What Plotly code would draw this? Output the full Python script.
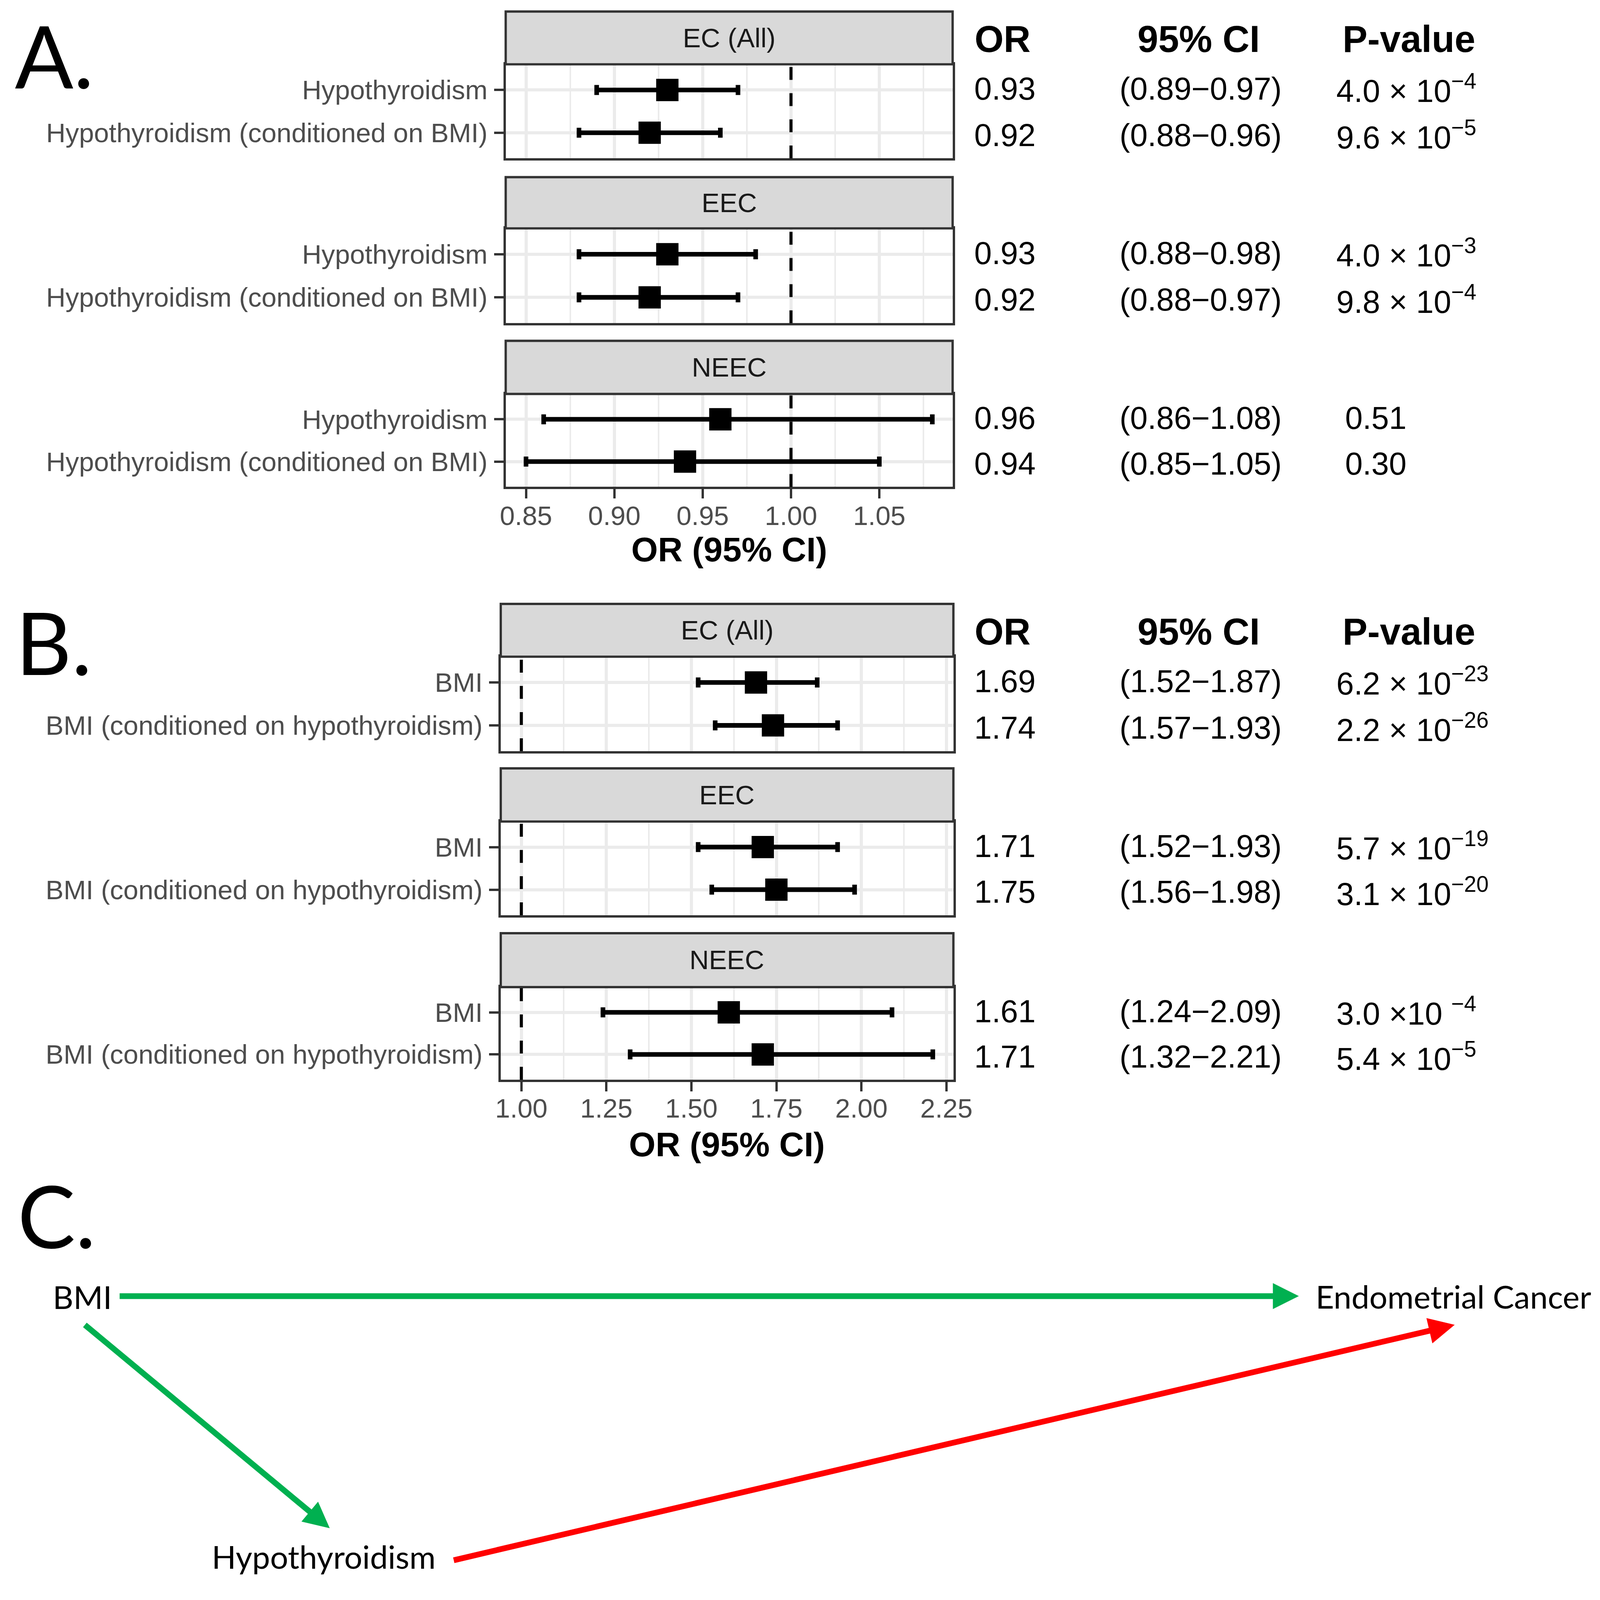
import plotly.graph_objects as go

# ---------------------------------------------------------------
# data
# ---------------------------------------------------------------
groups = ["EC (All)", "EEC", "NEEC"]

# A. hypothyroidism -> endometrial cancer
a_labels = ["Hypothyroidism", "Hypothyroidism (conditioned on BMI)"]
a_or = [[0.93, 0.92], [0.93, 0.92], [0.96, 0.94]]
a_lo = [[0.89, 0.88], [0.88, 0.88], [0.86, 0.85]]
a_hi = [[0.97, 0.96], [0.98, 0.97], [1.08, 1.05]]
a_p = [["4.0 × 10<sup>−4</sup>", "9.6 × 10<sup>−5</sup>"],
       ["4.0 × 10<sup>−3</sup>", "9.8 × 10<sup>−4</sup>"],
       ["\u00a00.51", "\u00a00.30"]]
a_ticks = [0.85, 0.90, 0.95, 1.00, 1.05]

# B. BMI -> endometrial cancer
b_labels = ["BMI", "BMI (conditioned on hypothyroidism)"]
b_or = [[1.69, 1.74], [1.71, 1.75], [1.61, 1.71]]
b_lo = [[1.52, 1.57], [1.52, 1.56], [1.24, 1.32]]
b_hi = [[1.87, 1.93], [1.93, 1.98], [2.09, 2.21]]
b_p = [["6.2 × 10<sup>−23</sup>", "2.2 × 10<sup>−26</sup>"],
       ["5.7 × 10<sup>−19</sup>", "3.1 × 10<sup>−20</sup>"],
       ["3.0 ×10\u00a0<sup>−4</sup>", "5.4 × 10<sup>−5</sup>"]]
b_ticks = [1.00, 1.25, 1.50, 1.75, 2.00, 2.25]

null_or = 1.0

# C. diagram nodes
node_names = ["BMI", "Endometrial Cancer", "Hypothyroidism"]

# ---------------------------------------------------------------
# page geometry (pixels of the 4173x4146 picture)
# ---------------------------------------------------------------
W, H = 4173, 4146
K = 0.985              # sizes: the page comes out slightly magnified
KX, KY = 0.988, 0.979  # figure width / height factors
FONT = "Liberation Sans, Arial, Helvetica, sans-serif"
LABFONT = "Lato, Carlito, Calibri, sans-serif"


def px(x):
    return x / W


def py(y):
    return 1 - (y - 5) / H


def s(v):
    return v * K


def note(text, x, y, size, family=FONT, color="black", xanchor="center", **kw):
    return dict(text=text, xref="paper", yref="paper", x=px(x), y=py(y),
                xanchor=xanchor, yanchor="middle", showarrow=False,
                font=dict(family=family, size=s(size), color=color, **kw))


panels = [
    dict(labels=a_labels, ors=a_or, los=a_lo, his=a_hi, ps=a_p, ticks=a_ticks,
         x0=1308, x1=2484, title_y=1434,
         strips=[(27, 165, 411), (460, 594, 842), (888, 1027, 1270)]),
    dict(labels=b_labels, ors=b_or, los=b_lo, his=b_hi, ps=b_p, ticks=b_ticks,
         x0=1295, x1=2486, title_y=2990,
         strips=[(1576, 1714, 1961), (2006, 2145, 2390), (2437, 2578, 2820)]),
]

fig = go.Figure()
layout = {}
shapes = []
annotations = []
tick_font = dict(family=FONT, size=s(70), color="#4D4D4D")

n = 0
for p in panels:
    # x range like ggplot: data + reference line, 5% expansion
    lo = min(min(r) for r in p["los"] + [[null_or]])
    hi = max(max(r) for r in p["his"] + [[null_or]])
    pad = 0.05 * (hi - lo)
    xr = [lo - pad, hi + pad]
    step = p["ticks"][1] - p["ticks"][0]
    minor = [t + step / 2 for t in [p["ticks"][0] - step] + p["ticks"]]
    minor = [m for m in minor if xr[0] < m < xr[1]]

    for i in range(3):
        n += 1
        xa = "x" if n == 1 else f"x{n}"
        ya = "y" if n == 1 else f"y{n}"
        st, pt, pb = p["strips"][i]
        last = i == 2

        ors = p["ors"][i]
        fig.add_trace(go.Scatter(
            x=ors, y=p["labels"], mode="markers",
            marker=dict(symbol="square", size=s(58), color="black"),
            error_x=dict(type="data", symmetric=False,
                         array=[h - o for h, o in zip(p["his"][i], ors)],
                         arrayminus=[o - l for o, l in zip(ors, p["los"][i])],
                         color="black", thickness=s(12), width=s(13)),
            xaxis=xa, yaxis=ya, showlegend=False, hoverinfo="skip"))

        layout["xaxis" if n == 1 else f"xaxis{n}"] = dict(
            domain=[px(p["x0"]), px(p["x1"])], anchor=ya, range=xr,
            tickvals=p["ticks"], ticktext=[f"{t:.2f}" for t in p["ticks"]],
            showticklabels=last, ticks="outside" if last else "",
            ticklen=s(24), tickwidth=s(6), tickcolor="#333333",
            ticklabelstandoff=round(s(-15)), tickfont=tick_font,
            showgrid=True, gridcolor="#EBEBEB", gridwidth=s(8),
            minor=dict(tickvals=minor, showgrid=True, gridcolor="#EBEBEB",
                       gridwidth=s(4), ticks=""),
            showline=True, mirror=True, linecolor="#333333", linewidth=s(6),
            zeroline=False, fixedrange=True)
        layout["yaxis" if n == 1 else f"yaxis{n}"] = dict(
            domain=[py(pb), py(pt)], anchor=xa, type="category",
            categoryarray=p["labels"], range=[1.6, -0.6],
            ticks="outside", ticklen=s(24), tickwidth=s(6), tickcolor="#333333",
            ticklabelstandoff=3, tickfont=tick_font,
            showgrid=True, gridcolor="#EBEBEB", gridwidth=s(8),
            showline=True, mirror=True, linecolor="#333333", linewidth=s(6),
            zeroline=False, fixedrange=True)

        # dashed null line
        shapes.append(dict(type="line", xref=xa, yref=f"{ya} domain",
                           x0=null_or, x1=null_or, y0=0, y1=1, layer="above",
                           line=dict(color="black", width=s(8),
                                     dash=f"{s(33):.0f}px,{s(35):.0f}px")))
        # facet strip
        shapes.append(dict(type="rect", xref="paper", yref="paper",
                           x0=px(p["x0"]), x1=px(p["x1"]), y0=py(pt), y1=py(st),
                           fillcolor="#D9D9D9", line=dict(color="#333333", width=s(6)),
                           layer="above"))
        annotations.append(note(groups[i], (p["x0"] + p["x1"]) / 2, (st + pt) / 2,
                                70, color="#1A1A1A"))

        # table on the right
        for j, lab in enumerate(p["labels"]):
            ys = s(3) if j == 0 else s(-6)
            cells = [(f"{ors[j]:.2f}", 2539, "left"),
                     (f"({p['los'][i][j]:.2f}−{p['his'][i][j]:.2f})", 3136, "center"),
                     (p["ps"][i][j], 3492, "left")]
            for txt, cx, anc in cells:
                annotations.append(dict(text=txt, xref="paper", yref=ya, x=px(cx), y=lab,
                                        yshift=ys, xanchor=anc, yanchor="middle",
                                        showarrow=False,
                                        font=dict(family=FONT, size=s(82), color="black")))
        if i == 0:
            hy = (st + pt) / 2 + 3
            for txt, cx, anc in [("OR", 2540, "left"), ("95% CI", 3131, "center"),
                                 ("P-value", 3685, "center")]:
                annotations.append(note(txt, cx, hy, 97, xanchor=anc, weight="bold"))

    annotations.append(note("OR (95% CI)", (p["x0"] + p["x1"]) / 2, p["title_y"], 89,
                            weight="bold"))

# panel letters
for txt, lx, ly in [("A.", 14, 140), ("B.", 16, 1674), ("C.", 22, 3172)]:
    annotations.append(note(txt, lx, ly, 225, family=LABFONT, xanchor="left"))

# panel C: causal diagram
for txt, lx, ly in zip(node_names, [114, 3437, 532], [3387, 3386, 4066]):
    annotations.append(note(txt, lx, ly, 83, family=LABFONT, xanchor="left"))

arrows = [((338, 3386), (3395, 3386), "#00B050"),
          ((209, 3460), (845, 3993), "#00B050"),
          ((1210, 4077), (3805, 3461), "#FF0000")]
for (sx, sy), (tx, ty), col in arrows:
    annotations.append(dict(text="", xref="paper", yref="paper", x=px(tx), y=py(ty),
                            ax=(sx - tx) * KX, ay=(sy - ty) * KY, showarrow=True,
                            arrowhead=2, arrowsize=0.9, arrowwidth=s(15), arrowcolor=col,
                            standoff=0, startstandoff=0))

fig.update_layout(
    width=round(W * KX), height=round(H * KY), margin=dict(l=0, r=0, t=0, b=0),
    paper_bgcolor="white", plot_bgcolor="white",
    shapes=shapes, annotations=annotations, **layout)

fig.write_html("out.html")
